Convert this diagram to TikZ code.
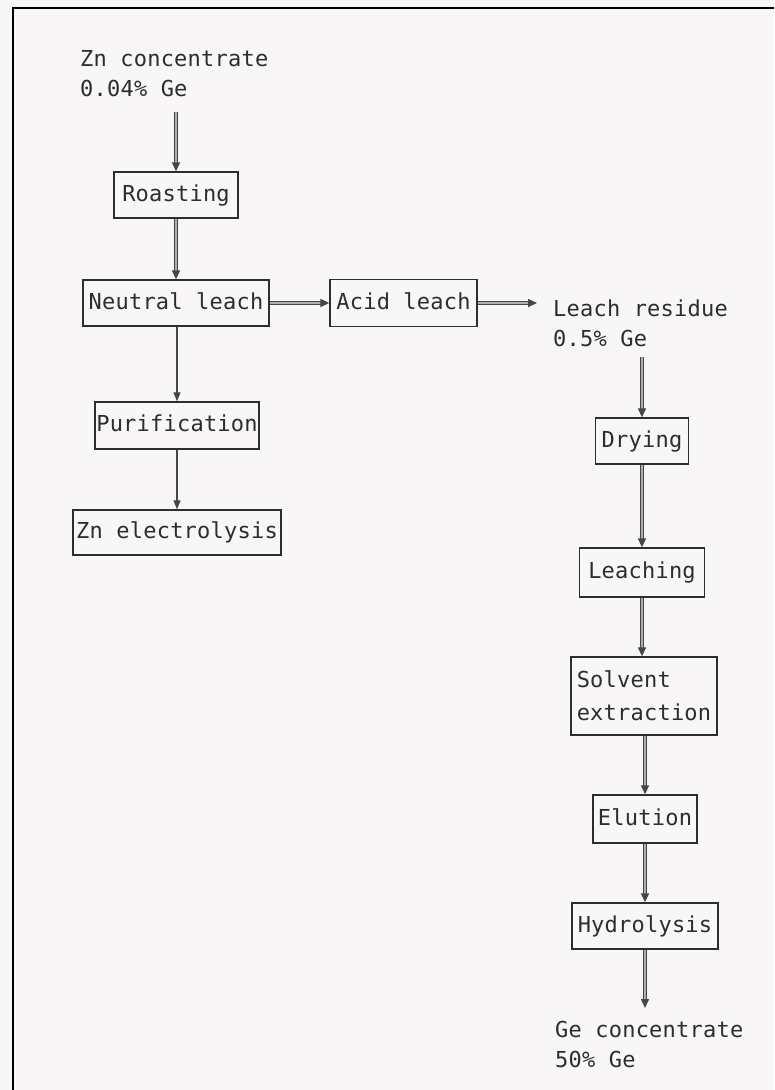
\documentclass[tikz,border=0pt]{standalone}
\usepackage{fontspec}
\setmonofont{DejaVu Sans Mono}[LetterSpace=1]
\usetikzlibrary{arrows.meta}
\definecolor{paper}{RGB}{248,246,246}
\definecolor{ink}{RGB}{45,45,45}
\definecolor{flowdark}{RGB}{70,70,70}
\definecolor{flowlight}{RGB}{175,175,175}
\begin{document}
\begin{tikzpicture}[x=1pt,y=-1pt,
  txt/.style={font=\ttfamily\fontsize{22}{30}\selectfont, text=ink},
  box/.style={txt, draw=ink, line width=1.4pt, inner sep=0pt, text height=16pt, text depth=4pt},
  lbl/.style={txt, align=left, inner xsep=0pt},
  flow/.style={draw=flowlight, line width=1.5pt,
    -{Triangle[length=9pt,width=8pt,color=flowdark]},
    preaction={draw=flowdark, line width=3.8pt, shorten >=8pt, -}},
  onearrow/.style={draw=flowdark, line width=1.2pt,
    -{Triangle[length=9pt,width=7pt]}}]
\fill[paper] (0,0) rectangle (774,1090);
\useasboundingbox (0,0) rectangle (774,1090);
\draw[line width=2.8pt, black] (13,1090) -- (13,8) -- (774,8);

% left column
\node[lbl, inner ysep=15pt, anchor=south west] (zn) at (80,112) {Zn concentrate\\0.04\% Ge};
\node[box, minimum width=124pt, minimum height=46pt] (roast) at (176,195) {Roasting};
\node[box, minimum width=186pt, minimum height=46pt] (neutral) at (176,303) {Neutral leach};
\node[box, minimum width=164pt, minimum height=47pt] (purif) at (177,425.5) {Purification};
\node[box, minimum width=208pt, minimum height=45pt] (elec) at (177,532.5) {Zn electrolysis};

% middle
\node[box, minimum width=147pt, minimum height=47pt] (acid) at (403.5,303) {Acid leach};

% right column
\node[lbl, inner xsep=16pt, inner ysep=10pt, anchor=south west] (res) at (537,357) {Leach residue\\0.5\% Ge};
\node[box, minimum width=93pt, minimum height=46pt] (dry) at (642,441) {Drying};
\node[box, minimum width=125pt, minimum height=49pt] (leachg) at (642,572.5) {Leaching};
\node[txt, draw=ink, line width=1.4pt, inner sep=0pt, align=left, minimum width=146pt, minimum height=78pt,
      font=\ttfamily\fontsize{22}{33}\selectfont] (solv) at (644,696) {Solvent\\extraction};
\node[box, minimum width=104pt, minimum height=48pt] (elu) at (645,819) {Elution};
\node[box, minimum width=146pt, minimum height=46pt] (hydro) at (645,926) {Hydrolysis};
\node[lbl, inner ysep=13pt, anchor=north west] (ge) at (555,1008) {Ge concentrate\\50\% Ge};

% connectors
\draw[flow] (roast |- zn.south) -- (roast);
\draw[flow] (roast) -- (roast |- neutral.north);
\draw[flow] (neutral.east |- acid) -- (acid);
\draw[flow] (acid) -- (acid -| res.west);
\draw[onearrow] (purif |- neutral.south) -- (purif);
\draw[onearrow] (purif) -- (elec);
\draw[flow] (dry |- res.south) -- (dry);
\draw[flow] (dry) -- (dry |- leachg.north);
\draw[flow] (dry |- leachg.south) -- (dry |- solv.north);
\draw[flow] (elu |- solv.south) -- (elu);
\draw[flow] (elu) -- (hydro);
\draw[flow] (hydro) -- (hydro |- ge.north);
\end{tikzpicture}
\end{document}
